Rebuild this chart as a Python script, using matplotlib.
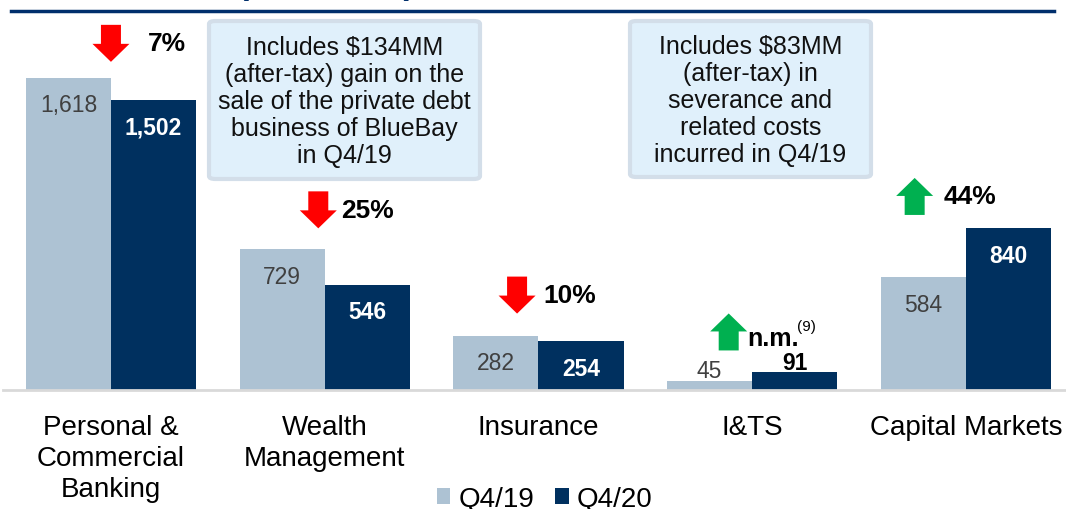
import matplotlib
matplotlib.use("Agg")
import matplotlib.pyplot as plt
from matplotlib.patches import Patch, FancyBboxPatch, FancyArrow
from matplotlib.lines import Line2D
import numpy as np

plt.rcParams['font.family'] = ['Liberation Sans', 'DejaVu Sans']

categories = ["Personal &\nCommercial\nBanking", "Wealth\nManagement", "Insurance", "I&TS", "Capital Markets"]
q4_19 = [1618, 729, 282, 45, 584]
q4_20 = [1502, 546, 254, 91, 840]
series_names = ["Q4/19", "Q4/20"]
changes = ["7%", "25%", "10%", "n.m.", "44%"]
directions = ["down", "down", "down", "up", "up"]
notes = ["Includes $134MM\n(after-tax) gain on the\nsale of the private debt\nbusiness of BlueBay\nin Q4/19",
         "Includes $83MM\n(after-tax) in\nseverance and\nrelated costs\nincurred in Q4/19"]

LIGHT = "#ADC2D3"
DARK = "#00305F"
NAVY = "#002F6C"
RED = "#FF0000"
GREEN = "#00B050"

W, H = 1066, 510
fig = plt.figure(figsize=(W/100, H/100), dpi=100)

def px(x0, y0, x1, y1):
    return [x0/W, 1 - y1/H, (x1-x0)/W, (y1-y0)/H]

ax = fig.add_axes(px(3, 20, 1066, 391))
x = np.arange(len(categories))
bw = 0.398
ax.bar(x - bw/2, q4_19, bw, color=LIGHT, zorder=2)
ax.bar(x + bw/2, q4_20, bw, color=DARK, zorder=2)
ax.set_xlim(-0.505, 4.468)
ax.set_ylim(0, 1923)
for s in ["top", "left", "right"]:
    ax.spines[s].set_visible(False)
ax.spines["bottom"].set_color("#D9D9D9")
ax.spines["bottom"].set_linewidth(2)
ax.set_yticks([])
ax.set_xticks(x)
ax.set_xticklabels(categories, fontsize=20, linespacing=1.27, va="top")
ax.tick_params(axis="x", length=0, pad=17)

# value labels
for i in range(len(categories)):
    for vals, off, col, wt, inside_col in ((q4_19, -bw/2, "#404040", "normal", "#404040"),
                                          (q4_20, bw/2, "black", "bold", "white")):
        v = vals[i]
        lab = f"{v:,}"
        if v > 150:
            ax.annotate(lab, (x[i] + off, v), xytext=(0, -19.5), textcoords="offset points",
                        ha="center", va="center", fontsize=16.5, color=inside_col, fontweight=wt)
        else:
            ax.annotate(lab, (x[i] + off, v), xytext=(0, 7.5), textcoords="offset points",
                        ha="center", va="center", fontsize=16.5, color=col, fontweight=wt)

# change arrows
arrow_dx = [0, -0.03, -0.1, -0.11, -0.24]
arrow_gap = [16, 21, 22, 22, 13]   # px above tallest bar of group
text_gap = [18, 4, 8, 0, 10]       # px between arrow and label
for i in range(len(categories)):
    top = max(q4_19[i], q4_20[i])
    cx = x[i] + arrow_dx[i]
    bx, by = ax.transData.transform((cx, top))
    by = by + arrow_gap[i]
    L = 37
    hw, hl, sw = 37, 18, 20
    if directions[i] == "down":
        start = (bx, by + L)
        d = -L
        color = RED
    else:
        start = (bx, by)
        d = L
        color = GREEN
    arr = FancyArrow(start[0], start[1], 0, d, width=sw, head_width=hw, head_length=hl,
                     length_includes_head=True, color=color, transform=None, linewidth=0)
    fig.patches.append(arr)
    tx = bx + hw/2 + text_gap[i]
    ty = by + L/2
    tfx, tfy = fig.transFigure.inverted().transform((tx, ty))
    if changes[i] == "n.m.":
        fig.text(tfx, tfy - 6/H, changes[i], fontsize=18, fontweight="bold", ha="left", va="center")
        fig.text(tfx + 50/W, tfy + 6/H, "(9)", fontsize=11, ha="left", va="center")
    else:
        fig.text(tfx, tfy, changes[i], fontsize=19, fontweight="bold", ha="left", va="center")

# note boxes
boxes = [(207, 20, 482, 182), (628, 20, 873, 180)]
for (x0, y0, x1, y1), note in zip(boxes, notes):
    r = px(x0 + 2, y0 + 2, x1 - 2, y1 - 2)
    p = FancyBboxPatch((r[0], r[1]), r[2], r[3], boxstyle="round,pad=0,rounding_size=0.006",
                       transform=fig.transFigure, facecolor="#E0F0FB", edgecolor="#D3DEE9", linewidth=3)
    fig.patches.append(p)
    fig.text((x0 + x1)/2/W, 1 - ((y0 + y1)/2 + 1)/H, note, fontsize=18, ha="center", va="center",
             linespacing=1.15, color="#111111")

# top rule and clipped title remnant
fig.add_artist(Line2D([11/W, 1054/W], [1 - 12/H, 1 - 12/H], color=NAVY, linewidth=2.5,
                      transform=fig.transFigure))
fig.text(326/W, 1 + 6/H, "($ millions)", fontsize=24, fontweight="bold", color=NAVY,
         ha="center", va="baseline")

handles = [Patch(facecolor=LIGHT), Patch(facecolor=DARK)]
fig.legend(handles, series_names, loc="center", bbox_to_anchor=(545/W, 1 - 500/H), ncol=2,
           frameon=False, fontsize=20, handlelength=0.47, handleheight=0.47, handletextpad=0.3,
           columnspacing=0.75, borderpad=0)

fig.savefig("out.png", dpi=100)
